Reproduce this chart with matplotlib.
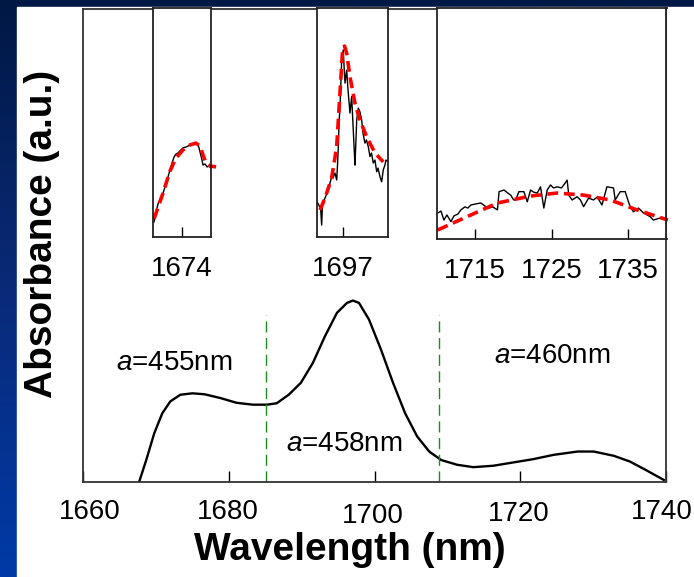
import numpy as np
import matplotlib.pyplot as plt
from matplotlib.colors import LinearSegmentedColormap
from matplotlib.patches import Rectangle
from matplotlib.transforms import ScaledTranslation

plt.rcParams['font.family'] = 'Liberation Sans'
plt.rcParams['mathtext.fontset'] = 'custom'
plt.rcParams['mathtext.rm'] = 'Liberation Sans'
plt.rcParams['mathtext.it'] = 'Liberation Sans:italic'

# full absorbance spectrum (a.u.)
wavelength = [1667.65, 1668.64, 1669.75, 1670.85, 1671.95, 1673.33, 1674.98, 1676.64,
              1678.83, 1681.04, 1683.25, 1685.17, 1686.56, 1688.2, 1689.86, 1691.51,
              1693.16, 1694.82, 1696.2, 1697.02, 1697.85, 1699.22, 1700.88, 1702.53,
              1704.18, 1705.83, 1707.49, 1709.14, 1711.34, 1713.55, 1716.3, 1719.05,
              1721.81, 1724.57, 1727.87, 1730.07, 1732.83, 1735.03, 1737.23, 1739.7]
absorbance = [0.0, 0.047, 0.104, 0.146, 0.171, 0.185, 0.188, 0.186,
              0.178, 0.168, 0.164, 0.164, 0.167, 0.185, 0.21, 0.252,
              0.308, 0.358, 0.379, 0.384, 0.379, 0.344, 0.28, 0.21,
              0.146, 0.097, 0.065, 0.047, 0.037, 0.032, 0.035, 0.042,
              0.049, 0.058, 0.065, 0.065, 0.056, 0.044, 0.026, 0.005]

# period boundaries and labels
boundaries = [1685.1, 1708.9]
period_labels = ['455', '458', '460']
label_wl = [1672.45, 1695.8, 1724.4]
label_y = [0.253, 0.081, 0.267]

# zoom 1: around 1674 nm
z1_wl = [1670.21, 1670.48, 1670.75, 1671.03, 1671.44, 1671.85, 1672.12, 1672.39, 1672.67,
         1672.94, 1673.21, 1673.49, 1673.76, 1674.17, 1674.58, 1674.86, 1675.27, 1675.54,
         1675.81, 1676.09, 1676.22, 1676.36, 1676.5, 1676.63, 1676.77, 1676.91, 1677.18,
         1677.46, 1677.73, 1678.0]
z1_ab = [0.066, 0.109, 0.144, 0.166, 0.192, 0.231, 0.262, 0.293, 0.323,
         0.349, 0.362, 0.367, 0.376, 0.389, 0.393, 0.397, 0.402, 0.406,
         0.41, 0.41, 0.402, 0.389, 0.371, 0.354, 0.336, 0.314, 0.319,
         0.306, 0.31, 0.301]
z1_fit_wl = [1670.21, 1671.44, 1672.39, 1673.21, 1674.17, 1675.13, 1675.95, 1676.5,
             1676.91, 1677.32, 1677.87, 1678.69]
z1_fit_ab = [0.079, 0.192, 0.288, 0.345, 0.38, 0.402, 0.41, 0.397,
             0.358, 0.323, 0.31, 0.306]

# zoom 2: around 1697 nm
z2_wl = [1693.44, 1693.68, 1693.99, 1694.12, 1694.23, 1694.34, 1694.58, 1694.85, 1695.03,
         1695.26, 1695.49, 1695.67, 1695.95, 1696.18, 1696.29, 1696.4, 1696.49, 1696.63,
         1696.77, 1696.86, 1697.08, 1697.18, 1697.32, 1697.55, 1697.73, 1698.0, 1698.23,
         1698.45, 1698.58, 1698.68, 1698.82, 1698.92, 1699.14, 1699.37, 1699.6, 1699.78,
         1700.05, 1700.26, 1700.51, 1700.74, 1700.95, 1701.19, 1701.42, 1701.66, 1701.84,
         1702.11, 1702.34, 1702.56, 1702.79, 1702.93, 1703.25]
z2_ab = [0.154, 0.144, 0.118, 0.052, 0.14, 0.154, 0.17, 0.192, 0.205,
         0.236, 0.263, 0.258, 0.279, 0.249, 0.314, 0.394, 0.489, 0.569,
         0.686, 0.773, 0.817, 0.751, 0.672, 0.729, 0.642, 0.541, 0.613,
         0.467, 0.38, 0.314, 0.424, 0.511, 0.563, 0.546, 0.511, 0.454,
         0.41, 0.424, 0.394, 0.351, 0.367, 0.323, 0.336, 0.285, 0.301,
         0.263, 0.241, 0.293, 0.314, 0.336, 0.329]
z2_fit_wl = [1693.89, 1694.58, 1695.49, 1696.18, 1696.63, 1697.0, 1697.25, 1697.55,
             1698.0, 1698.68, 1699.37, 1700.29, 1701.42, 1702.56]
z2_fit_ab = [0.118, 0.17, 0.258, 0.394, 0.629, 0.825, 0.834, 0.803,
             0.699, 0.585, 0.511, 0.437, 0.367, 0.328]

# zoom 3: 1710-1740 nm
z3_wl = [1710.19, 1710.58, 1710.97, 1711.36, 1711.88, 1712.27, 1712.79, 1713.18, 1713.7,
         1714.09, 1714.48, 1715.13, 1715.78, 1716.3, 1716.82, 1717.34, 1717.95, 1718.16,
         1718.81, 1719.29, 1719.68, 1720.06, 1720.32, 1720.75, 1721.4, 1721.84, 1722.27,
         1722.66, 1723.14, 1723.57, 1724.0, 1724.44, 1724.87, 1725.26, 1725.74, 1726.3,
         1726.69, 1727.04, 1727.25, 1727.69, 1728.34, 1728.77, 1729.19, 1729.84, 1730.49,
         1730.97, 1731.58, 1732.23, 1733.09, 1733.31, 1733.96, 1734.61, 1735.04, 1735.26,
         1735.69, 1736.34, 1736.99, 1737.86, 1738.29, 1739.16, 1740.0]
z3_ab = [0.113, 0.121, 0.082, 0.104, 0.075, 0.1, 0.108, 0.126, 0.139,
         0.134, 0.147, 0.152, 0.156, 0.143, 0.134, 0.139, 0.126, 0.205,
         0.212, 0.199, 0.19, 0.169, 0.169, 0.205, 0.205, 0.161, 0.212,
         0.203, 0.199, 0.226, 0.134, 0.212, 0.234, 0.221, 0.226, 0.221,
         0.238, 0.255, 0.19, 0.169, 0.183, 0.169, 0.14, 0.177, 0.169,
         0.182, 0.147, 0.226, 0.221, 0.169, 0.205, 0.205, 0.161, 0.14,
         0.118, 0.134, 0.113, 0.097, 0.082, 0.091, 0.082]
z3_fit_wl = [1710.16, 1713.61, 1717.95, 1722.27, 1725.74, 1729.19, 1732.66, 1736.13, 1740.19]
z3_fit_ab = [0.039, 0.091, 0.156, 0.186, 0.199, 0.19, 0.169, 0.126, 0.082]

W, H = 694, 577
fig = plt.figure(figsize=(W / 100, H / 100), dpi=100)


def px_box(left, top, right, bottom):
    return [left / W, 1 - bottom / H, (right - left) / W, (bottom - top) / H]


# slide background: blue gradient showing along the left and top edges
slide = LinearSegmentedColormap.from_list('slide', ['#001844', '#0a2a78', '#003aa6'])
bg = fig.add_axes([0, 0, 1, 1], zorder=-10)
bg.imshow(np.linspace(0, 1, 256).reshape(-1, 1), aspect='auto', cmap=slide,
          extent=[0, 1, 0, 1])
bg.add_patch(Rectangle((16.5 / W, 0), 1, 1 - 6.5 / H, color='white'))
bg.set_xlim(0, 1)
bg.set_ylim(0, 1)
bg.axis('off')

ax = fig.add_axes(px_box(83.3, 9, 666, 482.3))
ax.plot(wavelength, absorbance, color='black', lw=1.7)
ax.vlines(boundaries, 0, 0.354, colors='#1f8c1f', linestyles=(0, (8, 4)), lw=1.0)
for x, y, a in zip(label_wl, label_y, period_labels):
    ax.text(x, y, r'$a$=' + a + 'nm', fontsize=20, ha='center', va='center')
ax.set_xlim(1660, 1740)
ax.set_ylim(0, 1)
ax.set_xticks([1660, 1680, 1700, 1720, 1740])
ax.set_yticks([])
ax.tick_params(axis='x', direction='in', length=8, width=1, pad=12, labelsize=20)
# the hand-placed tick numbers sit a little off their ticks
nudges = [(6, 0), (-1, 0), (-2, -4), (-2, -2), (-4, 0)]
for lbl, (dx, dy) in zip(ax.get_xticklabels(), nudges):
    lbl.set_transform(lbl.get_transform() + ScaledTranslation(dx / 100, dy / 100, fig.dpi_scale_trans))
for s in ax.spines.values():
    s.set_linewidth(1.3)
    s.set_color('#333333')
ax.set_xlabel('Wavelength (nm)', fontsize=28, fontweight='bold')
ax.xaxis.set_label_coords(0.458, -0.105)
ax.set_ylabel('Absorbance (a.u.)', fontsize=28, fontweight='bold')
ax.yaxis.set_label_coords(-0.04, 0.524)


def zoom_panel(box, xlim, ticks, x, y, fx, fy):
    a = fig.add_axes(px_box(*box))
    a.plot(x, y, color='black', lw=1.0)
    a.plot(fx, fy, color='red', lw=2.6, dashes=(3, 1.6), clip_on=False)
    a.set_xlim(*xlim)
    a.set_ylim(0, 1)
    a.set_xticks(ticks)
    a.set_yticks([])
    a.tick_params(axis='x', direction='in', length=7, width=1, pad=14, labelsize=20)
    for s in a.spines.values():
        s.set_linewidth(1.3)
        s.set_color('#222222')
    return a


zoom_panel((152.5, 8, 211, 237), (1670, 1678), [1674], z1_wl, z1_ab, z1_fit_wl, z1_fit_ab)
zoom_panel((316.7, 8, 388.3, 237), (1693.44, 1703.25), [1697], z2_wl, z2_ab, z2_fit_wl, z2_fit_ab)
zoom_panel((436.5, 8, 666.5, 239), (1710, 1740), [1715, 1725, 1735], z3_wl, z3_ab, z3_fit_wl, z3_fit_ab)

fig.savefig('out.png', dpi=100)
